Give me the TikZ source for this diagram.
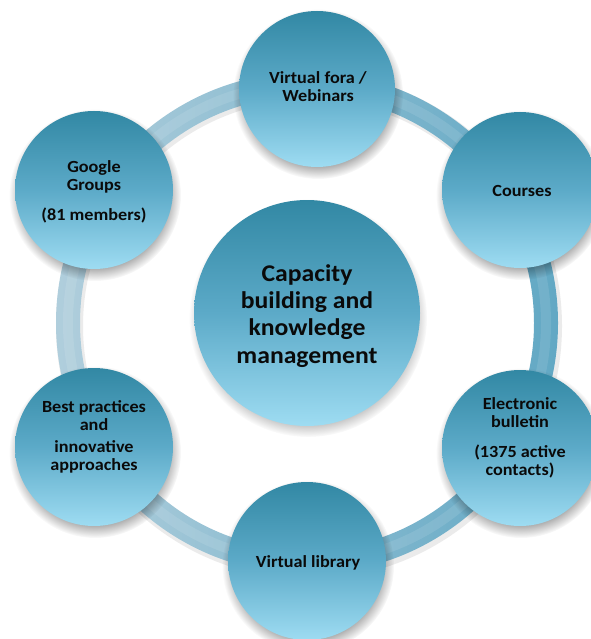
\documentclass[tikz,border=0pt]{standalone}
\usepackage{fontspec}
\setmainfont{Carlito}[FakeStretch=1.07]
\usetikzlibrary{fadings}
\definecolor{btop}{RGB}{50,136,164}
\definecolor{bmid}{RGB}{92,170,200}
\definecolor{bbot}{RGB}{158,220,242}
\definecolor{ringL}{RGB}{176,206,220}
\definecolor{ringR}{RGB}{98,168,196}
\definecolor{txt}{RGB}{10,10,10}
\tikzset{
  bubble/.style={circle, inner sep=0pt, top color=btop, bottom color=bbot, middle color=bmid},
  smalltxt/.style={align=center, text=txt, inner sep=0pt, anchor=base, font=\bfseries\fontsize{17}{18}\selectfont},
  bigtxt/.style={align=center, text=txt, inner sep=0pt, anchor=base, font=\bfseries\fontsize{24}{27.3}\selectfont},
  softshadow/.style={black, opacity=.42, path fading=circle with fuzzy edge 20 percent}
}
\begin{document}
\begin{tikzpicture}[x=1pt,y=-1pt]
\useasboundingbox (0,0) rectangle (590,639);
\fill[white] (0,0) rectangle (590,639);
% ring
\coordinate (rc) at (307,323);
\fill[black, opacity=.08, even odd rule] (309,326) circle[radius=253pt] (309,326) circle[radius=226pt];
\shade[even odd rule, left color=ringL, right color=ringR] (rc) circle[radius=251pt] (rc) circle[radius=227pt];
\draw[white, opacity=.10, line width=10pt] (rc) circle[radius=239pt];
% shadows
\foreach \x/\y/\r in {317/89/78, 520/190/78, 520/448/78, 307/561/79, 94/447/79, 94/190/79, 307/313/112}{
  \fill[softshadow] (\x+1,\y+5) circle[radius=\r+7];
}
% bubbles
\node[bubble, minimum size=226pt] (c) at (307,313) {};
\node[bubble, minimum size=156pt] (vf) at (317,89) {};
\node[bubble, minimum size=156pt] (co) at (520,190) {};
\node[bubble, minimum size=156pt] (eb) at (520,448) {};
\node[bubble, minimum size=158pt] (vl) at (307,561) {};
\node[bubble, minimum size=158pt] (bp) at (94,447) {};
\node[bubble, minimum size=158pt] (gg) at (94,190) {};
% texts (anchor = baseline of the last line)
\node[bigtxt] (ct) at (307,363) {Capacity\\building and\\knowledge\\management};
\node[smalltxt] (vft) at (318,101.7) {Virtual fora /\\Webinars};
\node[smalltxt] (cot) at (522,196.7) {Courses};
\node[smalltxt] (ggt) at (94,220.7) {Google\\Groups\\[12pt](81 members)};
\node[smalltxt] (ebt) at (520,475) {Electronic\\bulletin\\[12pt](1375 active\\contacts)};
\node[smalltxt] (bpt) at (94,470) {Best practices\\and\\[4pt]innovative\\approaches};
\node[smalltxt] (vlt) at (308,567) {Virtual library};
\end{tikzpicture}
\end{document}
